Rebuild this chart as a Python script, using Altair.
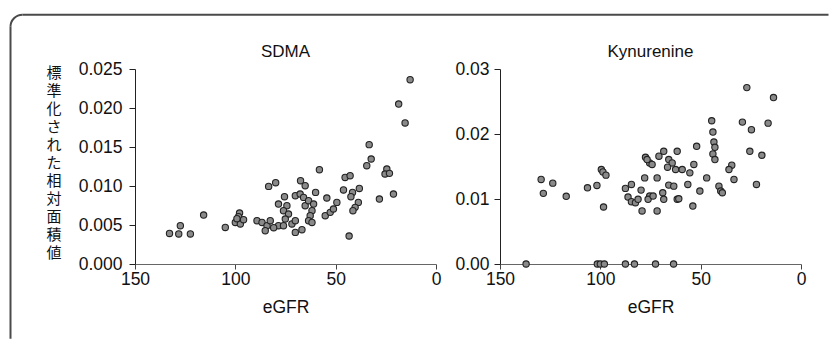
import altair as alt
import pandas as pd

# ---- data ----
sdma_egfr = [132.8, 128.2, 127.4, 122.4, 115.8, 105.0, 97.9, 100.0, 98.4, 97.5,
             95.9, 99.2, 89.2, 86.7, 84.2, 85.1, 83.4, 79.9, 78.5, 80.9,
             75.5, 78.5, 74.3, 76.0, 73.5, 75.1, 76.0, 71.8, 70.1, 70.1,
             67.7, 66.0, 67.5, 65.2, 70.1, 66.8, 65.2, 63.5, 61.0, 61.8,
             62.7, 63.5, 61.8, 60.0, 58.1, 54.4, 55.2, 52.7, 51.1, 49.4,
             45.3, 42.8, 46.1, 41.6, 42.4, 38.2, 38.7, 40.3, 41.4, 43.3,
             33.3, 32.3, 34.5, 24.5, 25.4, 23.2, 28.2, 21.2, 18.6, 15.4,
             12.9, 82.6]
sdma_val = [0.00392, 0.00385, 0.00491, 0.00385, 0.00628, 0.00469, 0.00654, 0.00533, 0.00606, 0.00513,
            0.00568, 0.00581, 0.00555, 0.00533, 0.00491, 0.00427, 0.00995, 0.01042, 0.00491, 0.00465,
            0.00863, 0.00769, 0.00747, 0.00683, 0.00641, 0.00577, 0.00491, 0.00513, 0.00555, 0.00876,
            0.00897, 0.00854, 0.01068, 0.01004, 0.00405, 0.00440, 0.00747, 0.00812, 0.00769, 0.00683,
            0.00619, 0.00555, 0.00533, 0.00918, 0.01209, 0.00846, 0.00619, 0.00662, 0.00705, 0.00790,
            0.01110, 0.01132, 0.00949, 0.00918, 0.00863, 0.00969, 0.00790, 0.00726, 0.00683, 0.00359,
            0.01530, 0.01346, 0.01260, 0.01218, 0.01154, 0.01162, 0.00833, 0.00897, 0.02051, 0.01808,
            0.02363, 0.00555]

kyn_egfr = [129.5, 128.4, 123.7, 117.0, 106.4, 101.7, 99.5, 98.7, 97.2, 98.4,
            87.5, 84.5, 86.2, 84.5, 82.5, 81.2, 79.2, 79.7, 77.9, 75.4,
            76.2, 73.7, 71.7, 71.7, 77.5, 75.4, 74.2, 76.7, 70.8, 68.4,
            65.9, 64.2, 62.5, 68.9, 68.4, 65.9, 63.4, 61.7, 27.0, 13.7,
            44.5, 29.2, 16.4, 43.9, 24.7, 43.4, 42.9, 43.9, 42.9, 25.5,
            19.5, 52.0, 61.7, 34.5, 35.9, 33.4, 53.4, 55.4, 59.2, 47.0,
            40.9, 40.0, 39.2, 22.2, 56.4, 50.4, 60.9, 53.9, 66.5,
            137.0, 101.5, 100.0, 98.0, 87.5, 83.0, 72.5, 63.5]
kyn_val = [0.01301, 0.01087, 0.01244, 0.01041, 0.01172, 0.01209, 0.01454, 0.01417, 0.01367, 0.00877,
           0.01163, 0.01224, 0.01030, 0.00958, 0.00943, 0.00995, 0.00816, 0.01137, 0.01325, 0.01045,
           0.00995, 0.01045, 0.01325, 0.00816, 0.01642, 0.01555, 0.01531, 0.01607, 0.01658, 0.01734,
           0.01607, 0.01555, 0.01454, 0.01096, 0.00995, 0.01214, 0.01198, 0.00995, 0.02714, 0.02561,
           0.02204, 0.02183, 0.02167, 0.02030, 0.02066, 0.01877, 0.01795, 0.01693, 0.01607, 0.01734,
           0.01673, 0.01811, 0.01734, 0.01520, 0.01454, 0.01301, 0.01531, 0.01402, 0.01454, 0.01325,
           0.01198, 0.01122, 0.01096, 0.01224, 0.01224, 0.01122, 0.01004, 0.00892, 0.01489,
           0.0, 0.0, 0.0, 0.0, 0.0, 0.0, 0.0, 0.0]

x_ticks = [150, 100, 50, 0]
sdma_ticks = [0.0, 0.005, 0.010, 0.015, 0.020, 0.025]
kyn_ticks = [0.00, 0.01, 0.02, 0.03]
panel_titles = ["SDMA", "Kynurenine"]
y_title = "標準化された相対面積値"
x_title = "eGFR"

LAT = "Liberation Sans"
W, H = 301, 195
one = pd.DataFrame({"k": [0]})


def scatter(df, ydom, yticks, yfmt, ytitle, lab_pad):
    yaxis_kw = dict(values=yticks, format=yfmt, grid=False, tickSize=6,
                    labelPadding=lab_pad, labelFont=LAT, labelFontSize=17.5,
                    labelColor="#111", domainColor="#222", tickColor="#222",
                    labelFlush=False)
    if ytitle is not None:
        yaxis_kw.update(title=list(ytitle), titleAngle=0, titleFont="Noto Sans CJK JP",
                        titleFontSize=15, titleFontWeight="normal", titleLineHeight=18,
                        titleX=-81.5, titleY=-4, titleBaseline="top", titleAlign="center",
                        titleColor="#111")
    else:
        yaxis_kw.update(title=None)
    return alt.Chart(df).mark_circle(size=40, fill="#8a8a8a", stroke="#222",
                                     strokeWidth=1.1, opacity=1).encode(
        x=alt.X("egfr:Q", scale=alt.Scale(domain=[0, 150], reverse=True, nice=False, zero=False),
                axis=alt.Axis(values=x_ticks, format="d", grid=False, title=x_title,
                              tickSize=5, labelPadding=1, labelFont=LAT, labelFontSize=17.5,
                              labelColor="#111", labelFlush=False, domainColor="#666",
                              tickColor="#444", titleFont=LAT, titleFontSize=17.5,
                              titleFontWeight="normal", titleColor="#111",
                              titleX=W / 2, titleY=48.7, titleBaseline="alphabetic",
                              titleAlign="center")),
        y=alt.Y("val:Q", scale=alt.Scale(domain=ydom, nice=False, zero=True),
                axis=alt.Axis(**yaxis_kw)),
    ).properties(width=W, height=H)


def title_text(t):
    return alt.Chart(one).mark_text(text=t, font=LAT, fontSize=17, align="center",
                                    baseline="alphabetic", color="#111").encode(
        x=alt.value(W / 2), y=alt.value(-12.3))


df1 = pd.DataFrame({"egfr": sdma_egfr, "val": sdma_val})
df2 = pd.DataFrame({"egfr": kyn_egfr, "val": kyn_val})

# frame (decorative rounded border around the figure)
FC = "#4a4a4a"
L, T, R = -124.5, -54.3, 12
frame_left = alt.Chart(one).mark_rule(color=FC, strokeWidth=2).encode(
    x=alt.value(L), y=alt.value(T + R), y2=alt.value(269.7))
frame_top = alt.Chart(one).mark_rule(color=FC, strokeWidth=2).encode(
    y=alt.value(T), x=alt.value(L + R), x2=alt.value(693.5))
frame_arc = alt.Chart(one).mark_arc(radius=R + 1, radius2=R - 1, theta=4.712389,
                                    theta2=6.283185, color=FC).encode(
    x=alt.value(L + R), y=alt.value(T + R))

p1 = alt.layer(frame_left, frame_top, frame_arc, title_text(panel_titles[0]),
               scatter(df1, [0, 0.025], sdma_ticks, ".3f", y_title, 7))
p2 = alt.layer(title_text(panel_titles[1]),
               scatter(df2, [0, 0.03], kyn_ticks, ".2f", None, 5))

chart = alt.hconcat(p1, p2, spacing=64, bounds="flush").configure_view(
    stroke=None).properties(
    padding={"left": 9, "top": 13, "right": 0, "bottom": 0}, background="white")

chart.save("out.html", embed_options={"renderer": "svg", "actions": False})
